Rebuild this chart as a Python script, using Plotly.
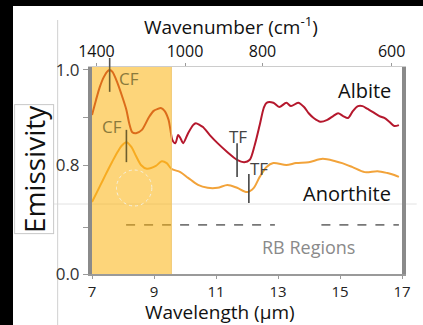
import plotly.graph_objects as go

# ---------------- data ----------------
albite_wl = [7.00, 7.13, 7.25, 7.38, 7.51, 7.57, 7.66, 7.82, 7.98, 8.11, 8.20, 8.30, 8.42, 8.61,
             8.84, 8.99, 9.12, 9.22, 9.34, 9.47, 9.53, 9.59, 9.69, 9.78, 9.85, 9.94, 10.10, 10.26,
             10.35, 10.48, 10.58, 10.80, 11.05, 11.37, 11.68, 11.91, 12.09, 12.25, 12.41, 12.54,
             12.63, 12.85, 13.04, 13.27, 13.42, 13.65, 13.84, 13.99, 14.15, 14.37, 14.59, 14.78,
             14.94, 15.10, 15.26, 15.42, 15.58, 15.73, 15.89, 16.05, 16.27, 16.43, 16.59, 16.75, 16.90]
albite_em = [0.905, 0.937, 0.964, 0.985, 0.998, 1.000, 0.996, 0.973, 0.943, 0.916, 0.888, 0.869,
             0.867, 0.874, 0.901, 0.914, 0.918, 0.920, 0.914, 0.895, 0.874, 0.853, 0.846, 0.863,
             0.857, 0.846, 0.867, 0.884, 0.888, 0.884, 0.880, 0.863, 0.846, 0.827, 0.811, 0.806,
             0.811, 0.842, 0.884, 0.920, 0.931, 0.931, 0.922, 0.931, 0.924, 0.931, 0.922, 0.909,
             0.899, 0.891, 0.895, 0.903, 0.909, 0.903, 0.899, 0.914, 0.924, 0.924, 0.918, 0.912,
             0.903, 0.899, 0.891, 0.882, 0.884]

anorthite_wl = [7.00, 7.16, 7.35, 7.51, 7.66, 7.82, 7.95, 8.11, 8.27, 8.42, 8.58, 8.77, 9.06, 9.25,
                9.41, 9.56, 9.85, 10.10, 10.42, 10.73, 11.05, 11.37, 11.68, 12.00, 12.22, 12.41,
                12.63, 12.85, 13.27, 13.58, 13.99, 14.44, 14.85, 15.07, 15.39, 15.80, 16.21, 16.53,
                16.75, 16.90]
anorthite_em = [0.722, 0.743, 0.768, 0.789, 0.808, 0.827, 0.840, 0.848, 0.838, 0.819, 0.800, 0.792,
                0.798, 0.808, 0.804, 0.792, 0.785, 0.773, 0.758, 0.752, 0.752, 0.758, 0.752, 0.743,
                0.752, 0.775, 0.796, 0.804, 0.800, 0.804, 0.806, 0.813, 0.808, 0.804, 0.796, 0.785,
                0.787, 0.783, 0.779, 0.775]

# Christiansen / transparency feature markers
feat_labels = ["CF", "CF", "TF", "TF"]
feat_x = [7.57, 8.11, 11.68, 12.06]
feat_y_bottom = [0.954, 0.806, 0.775, 0.720]
feat_y_top = [1.0063, 0.874, 0.846, 0.781]
feat_above_frame = [True, False, False, False]   # marker continues above the plot frame
feat_label_x = [8.20, 7.63, 11.72, 12.38]
feat_label_y = [0.983, 0.882, 0.859, 0.792]
feat_colors = ["#8a7a3c", "#8a7a3c", "#444444", "#444444"]
feat_line_colors = ["#6d5e2e", "#6d5e2e", "#444444", "#444444"]

# highlighted band (µm)
band_start, band_end = 7.0, 9.56

# RB regions (µm)
rb_start = [8.1, 14.4]
rb_end = [12.9, 16.9]
rb_level = 0.674

# axis ticks
x_ticks = [7, 9, 11, 13, 15, 17]
wn_ticks = [1400, 1000, 800, 600]
wn_tick_text = ["1400", "1000", "800", "600"]
y_up_ticks = [0.8, 1.0]
y_up_minor = [0.9]
y_low_ticks = [0.0]
y_low_minor = [0.1]

# ---------------- geometry ----------------
PAGE_W, PAGE_H = 423, 325
OFF_L, OFF_T = 13, 6          # black screenshot border (left, top)
W, H = PAGE_W - OFF_L, PAGE_H - OFF_T
ML, MR, MT, MB = 92 - OFF_L, 15, 67 - OFF_T, 51
PW, PH = W - ML - MR, H - MT - MB


def px(x):  # page pixel -> paper fraction
    return (x - OFF_L - ML) / PW


def py(y):
    return (PAGE_H - MB - y) / PH


FONT = "Open Sans"
ALB = "#b5182d"
ANO = "#f2a33a"

fig = go.Figure()

fig.add_trace(go.Scatter(x=albite_wl, y=albite_em, mode="lines", xaxis="x", yaxis="y2",
                         line=dict(color=ALB, width=2, shape="spline", smoothing=0.8),
                         showlegend=False, hoverinfo="skip"))
fig.add_trace(go.Scatter(x=anorthite_wl, y=anorthite_em, mode="lines", xaxis="x", yaxis="y2",
                         line=dict(color=ANO, width=2, shape="spline", smoothing=0.8),
                         showlegend=False, hoverinfo="skip"))
for s, e in zip(rb_start, rb_end):
    fig.add_trace(go.Scatter(x=[s, e], y=[rb_level, rb_level], mode="lines", xaxis="x", yaxis="y2",
                             line=dict(color="#777777", width=1.6, dash="9px,9px"),
                             showlegend=False, hoverinfo="skip"))
# invisible trace to hold the top axis
fig.add_trace(go.Scatter(x=[7, 17], y=[0.8, 0.8], mode="markers", xaxis="x2", yaxis="y2",
                         marker=dict(opacity=0), showlegend=False, hoverinfo="skip"))

shapes = []
# shaded band, drawn over the curves
shapes.append(dict(type="rect", xref="x", yref="paper", x0=band_start, x1=band_end, y0=0, y1=1,
                   fillcolor="#fbb20d", opacity=0.55, line=dict(width=0), layer="above"))
shapes.append(dict(type="line", xref="x", yref="paper", x0=band_end, x1=band_end, y0=0, y1=1,
                   line=dict(color="#f0c870", width=1), layer="above"))
# feature marker lines
for x, yb, yt, up, lc in zip(feat_x, feat_y_bottom, feat_y_top, feat_above_frame, feat_line_colors):
    shapes.append(dict(type="line", xref="x", yref="y2", x0=x, x1=x, y0=yb, y1=yt,
                       line=dict(color=lc, width=1.6), layer="above"))
    if up:
        shapes.append(dict(type="line", xref="x", yref="paper", x0=x, x1=x, y0=1, y1=py(58),
                           line=dict(color="#555555", width=1.6), layer="above"))
# faint guide artefacts
shapes.append(dict(type="line", xref="paper", yref="paper", x0=px(OFF_L), x1=px(PAGE_W), y0=py(204), y1=py(204),
                   line=dict(color="#e2e2e2", width=1), layer="below"))
shapes.append(dict(type="line", xref="paper", yref="paper", x0=px(57), x1=px(57), y0=py(20), y1=py(PAGE_H),
                   line=dict(color="#d0d0d0", width=1), layer="below"))
shapes.append(dict(type="circle", xref="paper", yref="paper", x0=px(117), x1=px(153), y0=py(170), y1=py(206),
                   line=dict(color="#f4f0e0", width=1, dash="dot"), layer="above"))

C = dict(xanchor="center", yanchor="middle")
annotations = []
for lab, lx, ly, c in zip(feat_labels, feat_label_x, feat_label_y, feat_colors):
    annotations.append(dict(x=lx, y=ly, xref="x", yref="y2", text=lab, showarrow=False,
                            font=dict(family=FONT, size=17, color=c), **C))

annotations.append(dict(x=15.80, y=0.956, xref="x", yref="y2", text="Albite", showarrow=False,
                        font=dict(family=FONT, size=20, color="#111111"), **C))
annotations.append(dict(x=15.23, y=0.741, xref="x", yref="y2", text="Anorthite", showarrow=False,
                        font=dict(family=FONT, size=20, color="#111111"), **C))
annotations.append(dict(x=13.99, y=0.057, xref="x", yref="y", text="RB Regions", showarrow=False,
                        font=dict(family=FONT, size=18, color="#8a8a8a"), **C))
# axis titles
annotations.append(dict(x=px(234), y=py(26), xref="paper", yref="paper", text="Wavenumber (cm<sup>-1</sup>)",
                        showarrow=False, font=dict(family=FONT, size=19, color="#111111"), **C))
annotations.append(dict(x=px(222), y=py(312), xref="paper", yref="paper", text="Wavelength (µm)",
                        showarrow=False, font=dict(family=FONT, size=19, color="#111111"), **C))
annotations.append(dict(x=px(33), y=py(169), xref="paper", yref="paper", text="Emissivity", textangle=-90,
                        showarrow=False, font=dict(family=FONT, size=28, color="#111111"),
                        bgcolor="white", bordercolor="#c8c8c8", borderwidth=1, borderpad=0, **C))

wl_ticks = [10000.0 / w for w in wn_ticks]

TICK = dict(ticks="outside", ticklen=5, tickcolor="#9a9a9a", tickwidth=1.2)

fig.update_layout(
    width=W, height=H,
    margin=dict(l=ML, r=MR, t=MT, b=MB, pad=0),
    paper_bgcolor="white", plot_bgcolor="white",
    font=dict(family=FONT, size=16, color="#222222"),
    shapes=shapes, annotations=annotations, showlegend=False,
    xaxis=dict(domain=[0, 1], range=[7, 17], anchor="y", tickvals=x_ticks,
               ticks="outside", ticklen=3, tickcolor="#9a9a9a", tickwidth=1.2,
               showline=True, linecolor="#9a9a9a", linewidth=1.5,
               showgrid=False, zeroline=False, tickfont=dict(size=15, color="#222222")),
    xaxis2=dict(overlaying="x", side="top", anchor="y2", range=[7, 17],
                tickvals=wl_ticks, ticktext=wn_tick_text,
                ticks="outside", ticklen=3, tickcolor="#9a9a9a", tickwidth=1.2,
                showline=True, linecolor="#cccccc", linewidth=1,
                showgrid=False, zeroline=False, tickfont=dict(size=16, color="#111111")),
    yaxis=dict(domain=[0, 47 / PH], range=[0, 0.1], anchor="x", tickvals=y_low_ticks, tickformat=".1f",
               minor=dict(tickvals=y_low_minor, **TICK), **TICK,
               showline=True, mirror=True, linecolor="#8a8a8a", linewidth=4,
               showgrid=False, zeroline=False, tickfont=dict(size=17, color="#333333")),
    yaxis2=dict(domain=[47 / PH, 1], range=[0.6695, 1.0063], anchor="x", tickvals=y_up_ticks, tickformat=".1f",
                minor=dict(tickvals=y_up_minor, **TICK), **TICK,
                showline=True, mirror=True, linecolor="#8a8a8a", linewidth=4,
                showgrid=False, zeroline=False, tickfont=dict(size=17, color="#333333")),
)

fig.write_html(
    "out.html",
    config={"displayModeBar": False},
    post_script=(
        "document.body.style.margin='0';"
        "document.body.style.padding='%dpx 0 0 %dpx';"
        "document.body.style.background='black';"
        "document.body.style.overflow='hidden';" % (OFF_T, OFF_L)
    ),
)
